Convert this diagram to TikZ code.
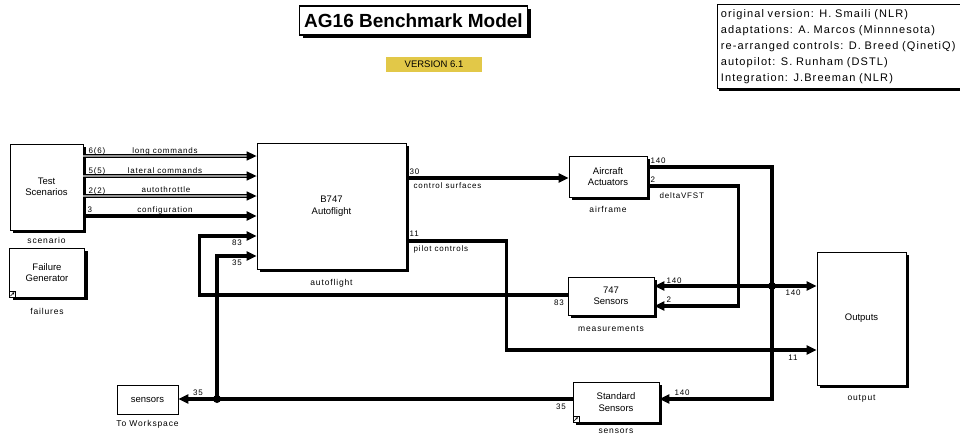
\documentclass[tikz,border=0pt]{standalone}
\usepackage{fontspec}
\setmainfont{Liberation Sans}
\newfontfamily\spacedfont[LetterSpace=10]{Liberation Sans}
\usetikzlibrary{arrows.meta, positioning, calc, shadows}
\definecolor{SLYellow}{RGB}{226, 200, 72}
\definecolor{SLBus}{RGB}{150, 150, 150}

\tikzset{
  blk/.style={draw, line width=0.8pt, fill=white, inner sep=0pt, align=center,
    font=\fontsize{9.5}{11.5}\selectfont,
    drop shadow={shadow xshift=3pt, shadow yshift=-3pt, fill=black, opacity=1}},
  plainblk/.style={draw, line width=0.8pt, fill=white, inner sep=0pt, align=center,
    font=\fontsize{9.5}{11.5}\selectfont},
  blklab/.style={inner sep=1pt, font=\spacedfont\fontsize{8.5}{10}\selectfont},
  sigtxt/.style={inner sep=0.5pt, font=\spacedfont\fontsize{8}{9}\selectfont},
  sig/.style={line width=3.2pt, -{Triangle[length=10pt,width=9pt]}},
  bus/.style={line width=1.5pt, double=SLBus, double distance=1.6pt, -{Triangle[length=10pt,width=9pt]}},
  wire/.style={line width=3.2pt},
  junc/.style={circle, fill=black, inner sep=0pt, minimum size=8pt},
  linkicon/.style={draw, fill=white, line width=0.5pt, minimum size=6pt, inner sep=0pt, anchor=south west},
}

\begin{document}
\begin{tikzpicture}[x=1pt, y=-1pt]
  \useasboundingbox (0,0) rectangle (960,436);

  \node[draw, line width=1.2pt, fill=white, minimum width=228pt, minimum height=29pt, inner sep=0pt,
    font=\fontsize{19}{22}\selectfont\bfseries,
    drop shadow={shadow xshift=3pt, shadow yshift=-3pt, fill=black, opacity=1}] (title) at (413.5,20.5) {AG16 Benchmark Model};
  \node[fill=SLYellow, minimum width=96pt, minimum height=15pt, inner sep=0pt,
    font=\fontsize{9.5}{11}\selectfont] (version) at (434,64.5) {VERSION 6.1};
  \node[draw, line width=0.8pt, fill=white, anchor=north west, text width=250pt, minimum height=84pt,
    inner xsep=3.5pt, inner ysep=2pt, align=left, font=\spacedfont\fontsize{11}{16}\selectfont,
    drop shadow={shadow xshift=2pt, shadow yshift=-3pt, fill=black, opacity=1}] (credits) at (717,4) {
    original version: H. Smaili (NLR)\\
    adaptations: A. Marcos (Minnnesota)\\
    re-arranged controls: D. Breed (QinetiQ)\\
    autopilot: S. Runham (DSTL)\\
    Integration: J.Breeman (NLR)};

  \node[blk, minimum width=73pt, minimum height=86pt] (scen) at (46.5,187) {Test\\Scenarios};
  \node[blk, minimum width=75pt, minimum height=49pt] (fail) at (47,272.5) {Failure\\Generator};
  \node[blk, minimum width=149pt, minimum height=126pt] (auto) at (331.5,206) {B747\\Autoflight};
  \node[blk, minimum width=78pt, minimum height=41pt] (act) at (608,176.5) {Aircraft\\Actuators};
  \node[blk, minimum width=86pt, minimum height=38pt] (meas) at (611,296) {747\\Sensors};
  \node[blk, minimum width=89pt, minimum height=133pt] (outp) at (861.5,318.5) {Outputs};
  \node[blk, minimum width=86pt, minimum height=40pt] (stds) at (616,402) {Standard\\Sensors};
  \node[plainblk, minimum width=61pt, minimum height=29pt] (ws) at (147.5,399.5) {sensors};

  \node[blklab, below=6pt of scen] (scen-name) {scenario};
  \node[blklab, below=10pt of fail] (fail-name) {failures};
  \node[blklab, below=9pt of auto] (auto-name) {autoflight};
  \node[blklab, below=8pt of act] (act-name) {airframe};
  \node[blklab, below=9pt of meas] (meas-name) {measurements};
  \node[blklab, below=8pt of outp] (outp-name) {output};
  \node[blklab, below=5pt of stds] (stds-name) {sensors};
  \node[blklab, below=5pt of ws] (ws-name) {To Workspace};

  \node[linkicon] (fail-link) at (fail.south west) {};
  \draw[line width=0.5pt, -{Stealth[length=2.5pt,width=2.5pt]}] ($(fail-link.south west)+(1.3,-1.3)$) -- ($(fail-link.north east)+(-1.3,1.3)$);
  \node[linkicon] (stds-link) at (stds.south west) {};
  \draw[line width=0.5pt, -{Stealth[length=2.5pt,width=2.5pt]}] ($(stds-link.south west)+(1.3,-1.3)$) -- ($(stds-link.north east)+(-1.3,1.3)$);

  \coordinate (auto-in1) at (auto.west |- 0,156);
  \coordinate (auto-in2) at (auto.west |- 0,176);
  \coordinate (auto-in3) at (auto.west |- 0,196);
  \coordinate (auto-in4) at (auto.west |- 0,216);
  \coordinate (auto-in5) at (auto.west |- 0,236);
  \coordinate (auto-in6) at (auto.west |- 0,256);
  \coordinate (auto-out1) at (auto.east |- 0,178);
  \coordinate (auto-out2) at (auto.east |- 0,241);
  \coordinate (act-out1) at (act.east |- 0,167);
  \coordinate (act-out2) at (act.east |- 0,186);
  \coordinate (meas-in1) at (meas.east |- 0,286);
  \coordinate (meas-in2) at (meas.east |- 0,306);
  \coordinate (meas-out) at (meas.west |- 0,295);
  \coordinate (outp-in1) at (outp.west |- 0,286);
  \coordinate (outp-in2) at (outp.west |- 0,350);
  \coordinate (stds-in) at (stds.east |- 0,399);
  \coordinate (stds-out) at (stds.west |- 0,399);
  \coordinate (ws-in) at (ws.east |- 0,399);

  \node[junc] (j140) at (772,286) {};
  \node[junc] (j35) at (217,399) {};

  \draw[bus] (scen.east |- auto-in1) -- (auto-in1);
  \draw[bus] (scen.east |- auto-in2) -- (auto-in2);
  \draw[bus] (scen.east |- auto-in3) -- (auto-in3);
  \draw[sig] (scen.east |- auto-in4) -- (auto-in4);
  \draw[sig] (auto-out1) -- (act.west |- auto-out1);
  \draw[sig] (auto-out2) -- ++(100,0) |- (outp-in2);
  \draw[wire] (act-out1) -| (j140.center);
  \draw[sig] (j140.center) |- (stds-in);
  \draw[sig] (j140.center) -- (meas-in1);
  \draw[sig] (j140.center) -- (outp-in1);
  \draw[sig] (act-out2) -- ++(91,0) |- (meas-in2);
  \draw[sig] (meas-out) -- ++(-368,0) |- (auto-in5);
  \draw[wire] (stds-out) -- (j35.center);
  \draw[sig] (j35.center) -- (ws-in);
  \draw[sig] (j35.center) |- (auto-in6);

  \node[sigtxt, anchor=west] (w-long) at (88,151) {6(6)};
  \node[sigtxt] (t-long) at (165,151) {long commands};
  \node[sigtxt, anchor=west] (w-lat) at (88,171) {5(5)};
  \node[sigtxt] (t-lat) at (165,171) {lateral commands};
  \node[sigtxt, anchor=west] (w-thr) at (88,191) {2(2)};
  \node[sigtxt] (t-thr) at (166,190) {autothrottle};
  \node[sigtxt, anchor=west] (w-cfg) at (87,210) {3};
  \node[sigtxt] (t-cfg) at (165,210) {configuration};
  \node[sigtxt] (w-meas-a) at (237,243) {83};
  \node[sigtxt] (w-sens-a) at (237,263) {35};
  \node[sigtxt, anchor=west] (w-surf) at (409,172) {30};
  \node[sigtxt, anchor=west] (t-surf) at (413,186) {control surfaces};
  \node[sigtxt, anchor=west] (w-pil) at (409,234) {11};
  \node[sigtxt, anchor=west] (t-pil) at (413,249) {pilot controls};
  \node[sigtxt, anchor=west] (w-st) at (650,161) {140};
  \node[sigtxt, anchor=west] (w-dv) at (650,180) {2};
  \node[sigtxt, anchor=west] (t-dv) at (659,196) {deltaVFST};
  \node[sigtxt, anchor=west] (w-meas-st) at (666,281) {140};
  \node[sigtxt, anchor=west] (w-meas-dv) at (666,300) {2};
  \node[sigtxt] (w-meas-o) at (559,303) {83};
  \node[sigtxt] (w-outp-st) at (793,293) {140};
  \node[sigtxt] (w-outp-pil) at (793,358) {11};
  \node[sigtxt, anchor=west] (w-stds-st) at (674,393) {140};
  \node[sigtxt] (w-stds-o) at (561,407) {35};
  \node[sigtxt] (w-ws) at (198,393) {35};
\end{tikzpicture}
\end{document}
